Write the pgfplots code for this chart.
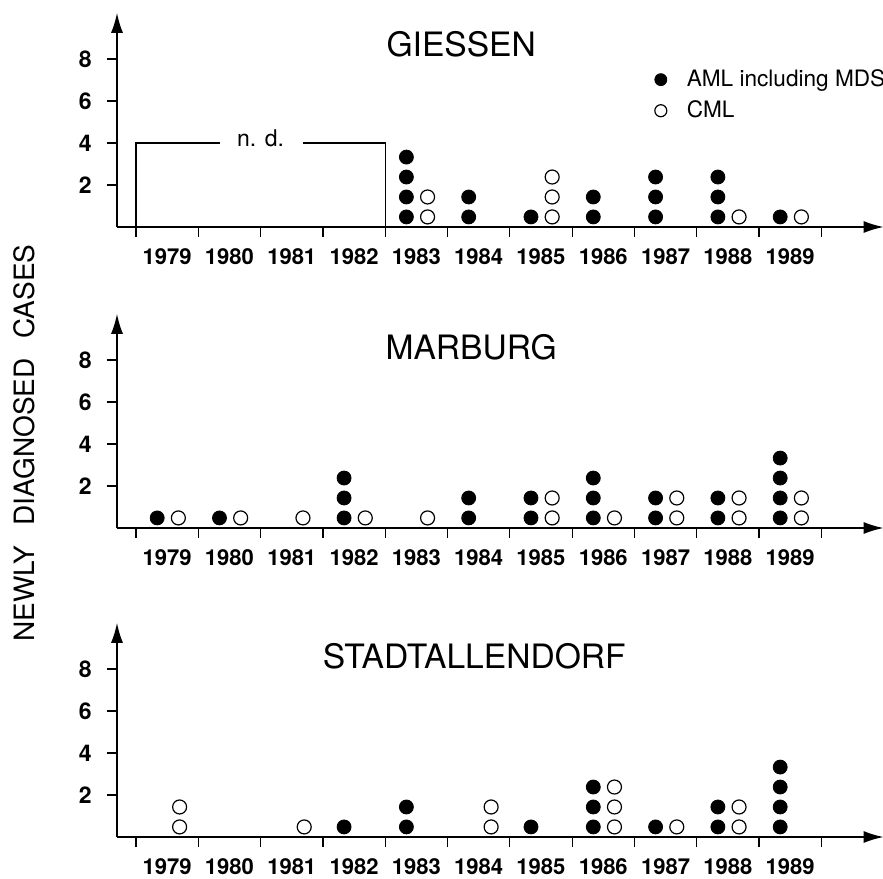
\documentclass[border=0pt]{standalone}
\usepackage{fontspec}
\setmainfont{TeX Gyre Heros}
\usepackage{pgfplots}
\pgfplotsset{compat=1.18}
\usetikzlibrary{arrows.meta}

\pgfplotsset{
  panel/.style={
    axis lines=left,
    x=31.15pt, y=10.5pt,
    xmin=-0.305, xmax=12, ymin=0, ymax=10.2,
    axis line style={line width=0.8pt, -{Latex[length=10pt,width=6pt]}},
    xtick={0,...,11}, xticklabels={},
    ytick={2,4,6,8}, yticklabels={},
    tick align=outside, major tick length=5pt,
    tick style={line width=0.6pt, black},
    clip=false,
    anchor=south west,
  },
  aml/.style={only marks, black, mark=*, mark size=3.5pt,
    mark options={fill=black, draw=black, line width=0.4pt}},
  cml/.style={only marks, black, mark=o, mark size=3.5pt,
    mark options={line width=0.6pt}},
}
\tikzset{
  ttl/.style={font=\fontsize{16.8}{19}\selectfont},
  xl/.style={font=\fontsize{11}{13}\selectfont\bfseries, inner sep=0pt},
  yl/.style={font=\fontsize{11.5}{13}\selectfont\bfseries, inner sep=0pt, anchor=east},
}
% year labels under each interval, count labels left of the y axis
\newcommand\ticklabels{%
  \pgfplotsinvokeforeach{0,...,10}{%
    \node[xl] at (axis cs:##1+0.5,-1.43) {\the\numexpr1979+##1\relax};}%
  \pgfplotsinvokeforeach{2,4,6,8}{%
    \node[yl] at ([xshift=-12.5pt]axis cs:-0.305,##1) {##1};}%
}

\begin{document}
\begin{tikzpicture}
\path[use as bounding box] (0,0) rectangle (441.5pt,-439pt);

% GIESSEN
\begin{axis}[panel, at={(58.5pt,-113.5pt)},
  legend cell align=left,
  legend image code/.code={\draw[#1, mark size=3pt] plot coordinates {(0pt,0pt)};},
  legend style={draw=none, fill=none, at={(axis cs:8.225,7.7)}, anchor=north west,
    font=\fontsize{11.3}{13}\selectfont, nodes={inner sep=0pt},
    column sep=10pt, row sep=5.6pt}]
\addplot[aml] coordinates {
  (4.34,0.48) (4.34,1.43) (4.34,2.38) (4.34,3.33)
  (5.34,0.48) (5.34,1.43)
  (6.34,0.48)
  (7.34,0.48) (7.34,1.43)
  (8.34,0.48) (8.34,1.43) (8.34,2.38)
  (9.34,0.48) (9.34,1.43) (9.34,2.38)
  (10.34,0.48)
};
\addlegendentry{AML including MDS}
\addplot[cml] coordinates {
  (4.68,0.48) (4.68,1.43)
  (6.68,0.48) (6.68,1.43) (6.68,2.38)
  (9.68,0.48)
  (10.68,0.48)
};
\addlegendentry{CML}
% n.d. box
\addplot[black, line width=0.6pt, forget plot] coordinates {(0,0) (0,4) (1.35,4)};
\addplot[black, line width=0.6pt, forget plot] coordinates {(2.68,4) (4,4) (4,0)};
\node[anchor=base, font=\fontsize{11.5}{13}\selectfont] at (axis cs:2,3.81) {n. d.};
\node[ttl] at (axis cs:5.22,8.7) {GIESSEN};
\ticklabels
\end{axis}

% MARBURG
\begin{axis}[panel, at={(58.5pt,-264pt)}]
\addplot[aml] coordinates {
  (0.34,0.48)
  (1.34,0.48)
  (3.34,0.48) (3.34,1.43) (3.34,2.38)
  (5.34,0.48) (5.34,1.43)
  (6.34,0.48) (6.34,1.43)
  (7.34,0.48) (7.34,1.43) (7.34,2.38)
  (8.34,0.48) (8.34,1.43)
  (9.34,0.48) (9.34,1.43)
  (10.34,0.48) (10.34,1.43) (10.34,2.38) (10.34,3.33)
};
\addplot[cml] coordinates {
  (0.68,0.48)
  (1.68,0.48)
  (2.68,0.48)
  (3.68,0.48)
  (4.68,0.48)
  (6.68,0.48) (6.68,1.43)
  (7.68,0.48)
  (8.68,0.48) (8.68,1.43)
  (9.68,0.48) (9.68,1.43)
  (10.68,0.48) (10.68,1.43)
};
\node[ttl] at (axis cs:5.38,8.6) {MARBURG};
\ticklabels
\end{axis}

% STADTALLENDORF
\begin{axis}[panel, at={(58.5pt,-418.5pt)}]
\addplot[aml] coordinates {
  (3.34,0.48)
  (4.34,0.48) (4.34,1.43)
  (6.34,0.48)
  (7.34,0.48) (7.34,1.43) (7.34,2.38)
  (8.34,0.48)
  (9.34,0.48) (9.34,1.43)
  (10.34,0.48) (10.34,1.43) (10.34,2.38) (10.34,3.33)
};
\addplot[cml] coordinates {
  (0.70,0.48) (0.70,1.43)
  (2.70,0.48)
  (5.70,0.48) (5.70,1.43)
  (7.68,0.48) (7.68,1.43) (7.68,2.38)
  (8.68,0.48)
  (9.68,0.48) (9.68,1.43)
};
\node[ttl] at (axis cs:5.43,8.6) {STADTALLENDORF};
\ticklabels
\end{axis}

\node[rotate=90, font=\fontsize{14}{16}\selectfont] at (12pt,-221.5pt)
  {NEWLY\hspace{10pt}DIAGNOSED\hspace{10pt}CASES};
\end{tikzpicture}
\end{document}
